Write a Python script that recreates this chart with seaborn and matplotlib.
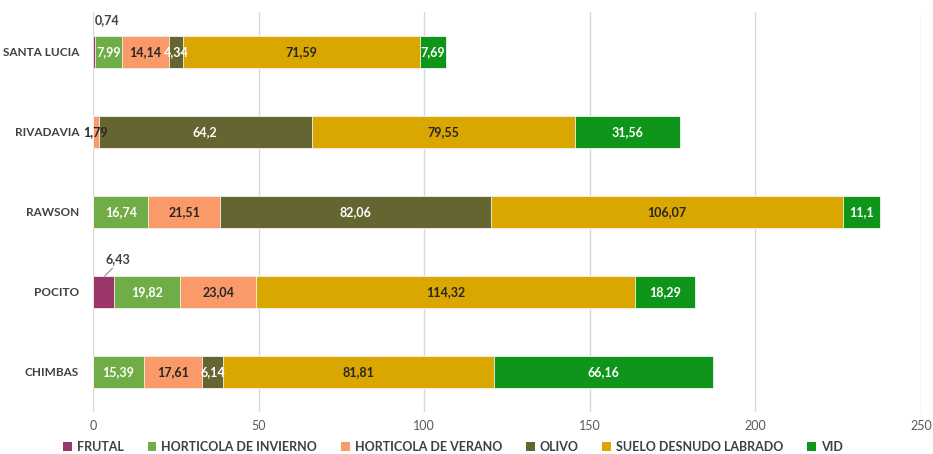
import matplotlib
matplotlib.use("Agg")
import matplotlib.pyplot as plt
import seaborn as sns
import pandas as pd
import numpy as np
from matplotlib.patches import Patch

categories = ["SANTA LUCIA", "RIVADAVIA", "RAWSON", "POCITO", "CHIMBAS"]
series_names = ["FRUTAL", "HORTICOLA DE INVIERNO", "HORTICOLA DE VERANO",
                "OLIVO", "SUELO DESNUDO LABRADO", "VID"]
frutal = [0.74, 0, 0, 6.43, 0]
hort_invierno = [7.99, 0, 16.74, 19.82, 15.39]
hort_verano = [14.14, 1.79, 21.51, 23.04, 17.61]
olivo = [4.34, 64.2, 82.06, 0, 6.14]
suelo = [71.59, 79.55, 106.07, 114.32, 81.81]
vid = [7.69, 31.56, 11.1, 18.29, 66.16]
xticks = [0, 50, 100, 150, 200, 250]

colors = ["#9B3668", "#70AD47", "#F99A68", "#656532", "#DAA600", "#0F961A"]
label_colors = ["#404040", "white", "#262626", "white", "#262626", "white"]

sns.set_theme(style="white")
plt.rcParams["font.family"] = ["Lato", "DejaVu Sans"]

series = [frutal, hort_invierno, hort_verano, olivo, suelo, vid]
vals = np.array(series)
cum = np.cumsum(vals, axis=0)

fig = plt.figure(figsize=(9.33, 4.54), dpi=100)
ax = fig.add_axes([93 / 933, 42 / 454, 828 / 933, 400 / 454])

for i in range(len(series) - 1, -1, -1):
    df = pd.DataFrame({"cat": categories, "val": cum[i]})
    sns.barplot(data=df, x="val", y="cat", order=categories, color=colors[i],
                width=0.4, ax=ax, orient="h", saturation=1,
                edgecolor="#F2F2F2", linewidth=0.6)

for i, name in enumerate(series_names):
    for j, cat in enumerate(categories):
        v = vals[i, j]
        if v == 0:
            continue
        txt = f"{v:g}".replace(".", ",")
        center = cum[i, j] - v / 2
        if i == 0:
            if cat == "POCITO":
                ax.plot([center + 0.3, center + 2.7], [j - 0.2, j - 0.3],
                        color="#7F7F7F", lw=0.7)
                ax.text(center + 4.2, j - 0.41, txt, ha="center", va="center",
                        fontsize=9, fontweight="bold", color="#404040")
            else:
                ax.text(center + 3.9, j - 0.4, txt, ha="center", va="center",
                        fontsize=9, fontweight="bold", color="#404040")
            continue
        col = label_colors[i]
        ax.text(center, j, txt, ha="center", va="center", fontsize=9,
                fontweight="bold", color=col)

ax.set_xlim(0, 250)
ax.set_ylim(4.5, -0.5)
ax.set_xticks(xticks)
ax.set_xticklabels([str(t) for t in xticks], fontsize=9, color="#595959")
ax.set_ylabel("")
ax.set_xlabel("")
ax.tick_params(axis="y", length=0, pad=10)
ax.tick_params(axis="x", length=0, pad=6)
for lbl in ax.get_yticklabels():
    lbl.set_fontweight("bold")
    lbl.set_fontsize(8.5)
    lbl.set_color("#404040")
ax.xaxis.grid(True, color="#D9D9D9", linewidth=1)
ax.set_axisbelow(True)
for s in ax.spines.values():
    s.set_visible(False)

handles = [Patch(facecolor=c, edgecolor="none") for c in colors]
leg = fig.legend(handles, series_names, loc="center", bbox_to_anchor=(453 / 933, 7 / 454),
                 ncol=6, frameon=False, fontsize=9, handlelength=0.7, handleheight=0.7,
                 handletextpad=0.4, columnspacing=1.9)
for t in leg.get_texts():
    t.set_fontweight("bold")
    t.set_color("#404040")

fig.savefig("out.png", dpi=100)
